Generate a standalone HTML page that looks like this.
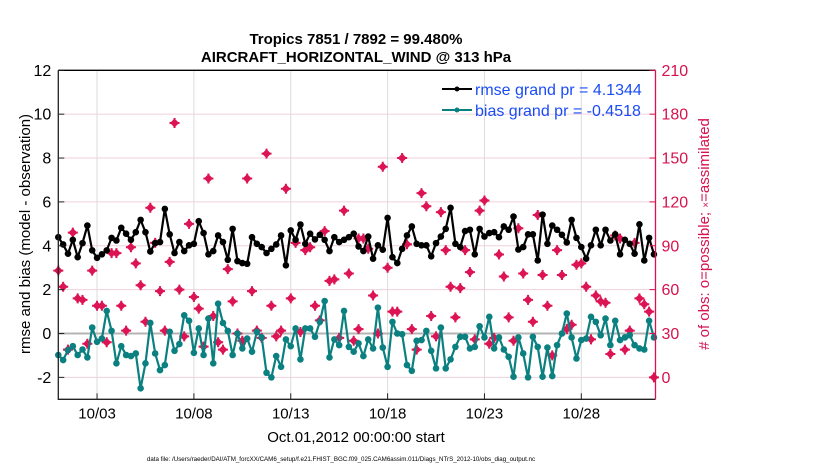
<!DOCTYPE html>
<html><head><meta charset="utf-8">
<style>
html,body{margin:0;padding:0;background:#fff;}
svg{display:block;font-family:"Liberation Sans",sans-serif;}
</style></head>
<body>
<svg id="chart" width="830" height="470" viewBox="0 0 830 470">
<text x="356" y="44" text-anchor="middle" font-size="15" font-weight="bold">Tropics 7851 / 7892 = 99.480%</text>
<text x="356" y="62" text-anchor="middle" font-size="15" font-weight="bold">AIRCRAFT_HORIZONTAL_WIND @ 313 hPa</text>
<g id="grid"></g>
<g id="marks"></g>
<g id="axes"></g>
<text transform="translate(30,234) rotate(-90)" text-anchor="middle" font-size="15">rmse and bias (model - observation)</text>
<text transform="translate(709,234) rotate(-90)" text-anchor="middle" font-size="15" fill="#d6124f"># of obs: o=possible; <tspan font-size="10">×</tspan>=assimilated</text>
<text x="356" y="442" text-anchor="middle" font-size="15">Oct.01,2012 00:00:00 start</text>
<text x="341" y="461" text-anchor="middle" font-size="6.2">data file: /Users/raeder/DAI/ATM_forcXX/CAM6_setup/f.e21.FHIST_BGC.f09_025.CAM6assim.011/Diags_NTrS_2012-10/obs_diag_output.nc</text>
<g>
<line x1="442" y1="89" x2="472" y2="89" stroke="#000" stroke-width="2"/>
<circle cx="457" cy="89" r="2.5" fill="#000"/>
<text x="475" y="95" font-size="16" fill="#1a4cf5">rmse grand pr = 4.1344</text>
<line x1="442" y1="110" x2="472" y2="110" stroke="#0b8080" stroke-width="2"/>
<circle cx="457" cy="110" r="2.5" fill="#0b8080"/>
<text x="475" y="116" font-size="16" fill="#1a4cf5">bias grand pr = -0.4518</text>
</g>
</svg>
<script>
const rmseValues=[4.39,4.06,3.64,4.27,3.48,4.12,4.92,3.79,3.45,3.61,3.79,4.36,4.24,4.82,4.55,4.27,4.62,5.18,4.62,3.74,4.12,4.17,5.68,4.52,3.67,4.17,3.76,4.02,4.09,5.12,4.58,3.61,
3.76,4.47,4.17,3.36,4.77,3.30,3.21,3.18,4.39,4.09,3.94,3.67,3.86,4.06,4.47,3.11,4.70,4.27,4.97,4.09,4.55,4.29,4.50,4.27,3.76,4.39,4.17,4.27,4.39,4.55,3.97,
3.76,4.42,3.41,4.02,3.82,5.27,3.48,3.21,3.86,4.47,4.88,4.09,4.02,4.02,3.52,4.12,4.42,4.77,5.73,4.09,3.94,4.67,4.73,3.61,4.77,4.42,4.58,4.62,4.39,4.88,
4.73,5.33,3.83,3.94,4.52,4.52,3.33,5.42,4.09,4.92,4.73,4.50,4.15,5.18,4.36,3.94,3.41,4.02,4.73,4.02,4.73,4.24,4.52,3.61,4.27,4.09,3.64,4.98,3.33,4.36,3.61];
const biasValues=[-0.98,-1.21,-0.76,-0.58,-0.98,-0.73,-1.09,0.27,-0.38,-0.23,1.03,0.12,-1.36,-0.58,-0.98,-1.03,-0.91,-2.5,-1.36,0.48,-0.91,-1.67,-1.44,0.08,-0.79,-0.48,0.83,0.58,-0.88,0.23,-0.98,0.68,
-1.36,1.36,0.48,0.12,-0.98,0,-0.68,-0.23,-0.83,0.08,-0.18,-1.79,-2.0,-1.03,-1.52,-0.27,-0.58,0.23,-1.18,0.23,0.23,-0.15,0.53,1.48,-1.09,-0.27,-0.53,1.03,-0.61,-0.83,-0.45,
-1.03,-0.27,-0.68,1.18,-0.64,-1.52,0.53,0,-0.03,-1.44,-1.70,-0.33,-0.30,0.12,-0.79,-1.59,0.27,-1.59,-1.18,-0.61,-0.15,-0.15,-0.68,-0.61,0.33,-0.18,0.76,-0.68,-0.18,-0.73,
-1.06,-1.97,-0.18,-0.91,-2.0,-0.15,-0.61,-1.97,-0.64,-1.94,-0.53,0,0.91,-0.18,-1.14,-0.30,-0.23,0.76,0.53,-0.08,0.68,-0.53,0.58,-0.30,-0.18,-0.08,-0.53,-0.68,-0.73,0.58,-0.18];
const obsIndex=[0,1,2,3,4,5,6,7,8,9,10,11,12,13,14,15,16,17,18,19,20,21,22,23,24,25,26,27,28,29,30,31,32,33,34,35,36,37,38,39,40,41,42,43,44,45,46,47,48,49,50,51,52,53,54,55,56,57,58,59,60,61,62,62,63,64,65,66,67,68,69,70,71,72,73,74,75,76,77,78,79,80,81,82,83,84,85,86,87,88,89,90,91,92,93,94,95,96,97,98,99,100,101,102,103,104,105,106,107,108,109,110,111,112,113,114,115,116,117,118,119,120,121,122,123];
const obsCount=[73,62,19,99,54,53,23,73,49,49,24,85,85,49,32,89,78,63,38,116,92,59,32,79,174,60,28,105,55,47,21,136,42,24,19,74,52,30,25,136,59,32,27,153,49,28,32,129,54,92,31,87,89,49,39,100,66,67,27,114,71,25,95,33,95,88,56,30,144,75,45,45,150,91,33,19,126,117,42,28,113,87,62,41,61,87,72,26,114,121,23,27,84,69,41,25,102,71,53,38,111,70,49,15,87,70,33,36,77,78,62,26,56,52,51,16,97,95,19,32,92,54,50,45,0];
const xTickLabels=["10/03","10/08","10/13","10/18","10/23","10/28"];
const xTickDays=[2,7,12,17,22,27];
const yTicksLeft=[-2,0,2,4,6,8,10,12];
const yTicksRight=[0,30,60,90,120,150,180,210];

const NS="http://www.w3.org/2000/svg";
const L=58.3,R=655.5,T=70.3,B=399.3;
const xDay=d=>L+(d/30.83)*(R-L);
const xIdx=i=>xDay(i*0.25);
const yL=v=>T+(12-v)/15*(B-T);
const yR=c=>yL(c/15-2);
function mk(tag,attrs,parent){const e=document.createElementNS(NS,tag);for(const k in attrs)e.setAttribute(k,attrs[k]);parent.appendChild(e);return e;}
const grid=document.getElementById('grid'),marks=document.getElementById('marks'),axes=document.getElementById('axes');

yTicksRight.forEach(c=>{const g=mk('line',{x1:L,x2:R,y1:yR(c),y2:yR(c),stroke:'#f0d0dc','stroke-width':1},grid);

});
xTickDays.forEach(d=>{const g=mk('line',{x1:xDay(d),x2:xDay(d),y1:T,y2:B,stroke:'#dcdcdc','stroke-width':1},grid);

});
const z=mk('line',{x1:L,x2:R,y1:yL(0),y2:yL(0),stroke:'#b4b4b4','stroke-width':2},grid);



obsIndex.forEach((idx,k)=>{const x=xIdx(idx),y=yR(obsCount[k]);
const g=mk('g',{},marks);


mk('path',{d:`M${x-4.5},${y}L${x},${y-4.5}L${x+4.5},${y}L${x},${y+4.5}Z`,fill:'#dc1454'},g);
mk('path',{d:`M${x-5},${y}H${x+5}M${x},${y-5}V${y+5}`,stroke:'#dc1454','stroke-width':2},g);
});

function series(vals,color,name){
const d=vals.map((v,i)=>(i?'L':'M')+xIdx(i).toFixed(1)+','+yL(v).toFixed(1)).join('');
const p=mk('path',{d:d,fill:'none',stroke:color,'stroke-width':2.2,'stroke-linejoin':'round'},marks);


vals.forEach((v,i)=>{const c=mk('circle',{cx:xIdx(i),cy:yL(v),r:3.3,fill:color},marks);

});
}
series(biasValues,'#0b8080','bias');
series(rmseValues,'#000000','rmse');

const sp=[['M'+L+','+T+'H'+R,'#000','top-spine'],['M'+L+','+T+'V'+B+'H'+R,'#222','left-bottom-spine'],['M'+R+','+T+'V'+B,'#d6124f','right-spine']];
sp.forEach(s=>{const p=mk('path',{d:s[0],fill:'none',stroke:s[1],'stroke-width':1.3},axes);

});
yTicksLeft.forEach(v=>{const y=yL(v);mk('line',{x1:L,x2:L+6,y1:y,y2:y,stroke:'#222'},axes);
const t=mk('text',{x:L-7,y:y+5.5,'text-anchor':'end','font-size':16},axes);t.textContent=v;

});
yTicksRight.forEach(c=>{const y=yR(c);mk('line',{x1:R-6,x2:R,y1:y,y2:y,stroke:'#d6124f'},axes);
const t=mk('text',{x:R+6,y:y+5.5,'font-size':16,fill:'#d6124f'},axes);t.textContent=c;

});
xTickDays.forEach((d,k)=>{const x=xDay(d);mk('line',{x1:x,x2:x,y1:B,y2:B-6,stroke:'#222'},axes);
const t=mk('text',{x:x,y:B+19,'text-anchor':'middle','font-size':15},axes);t.textContent=xTickLabels[k];

});
</script>
</body></html>
